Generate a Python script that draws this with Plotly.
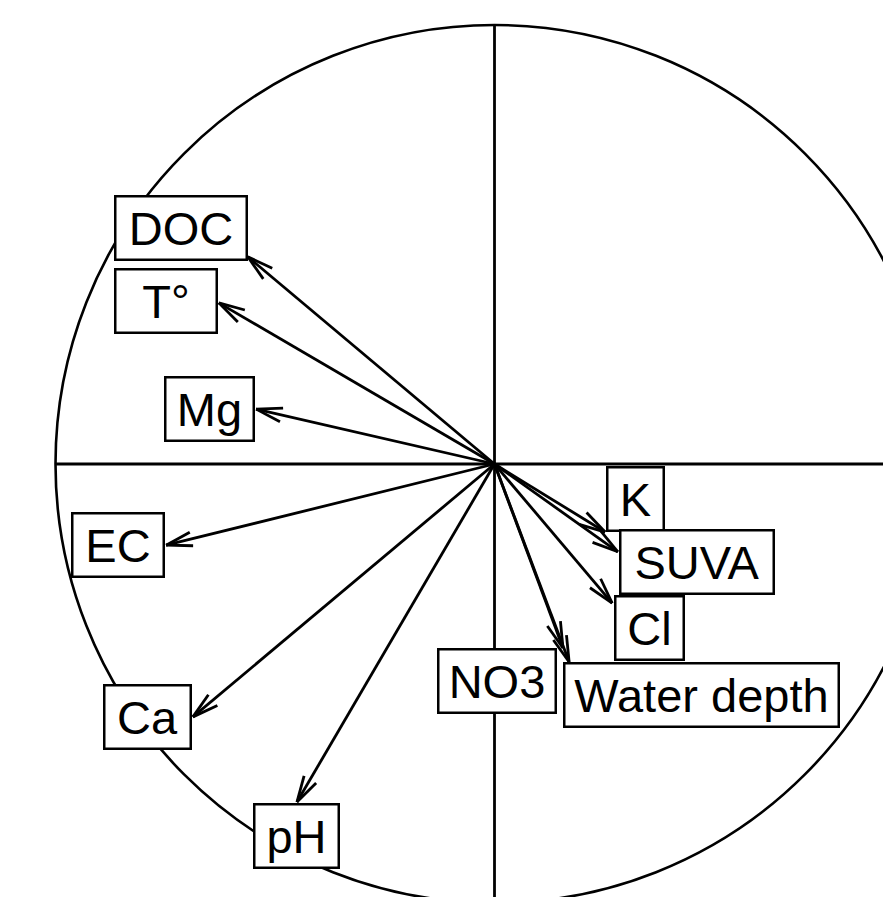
import math
import plotly.graph_objects as go

# ---- data (correlation circle coordinates) ----
variables = ["DOC", "T°", "Mg", "EC", "Ca", "pH", "K", "SUVA", "Cl", "NO3", "Water depth"]
axis1 = [-0.562, -0.628, -0.543, -0.748, -0.687, -0.450, 0.252, 0.281, 0.268, 0.156, 0.170]
axis2 = [0.472, 0.367, 0.125, -0.185, -0.576, -0.770, -0.155, -0.200, -0.317, -0.419, -0.451]

# ---- styling / layout ----
W, H = 883, 897
cx_px, cy_px = 494.5, 464.0
unit_px = 439.0
xr = [-cx_px / unit_px, (W - cx_px) / unit_px]
yr = [-(H - cy_px) / unit_px, cy_px / unit_px]

box_w = {"DOC": 131, "T°": 101, "Mg": 88, "EC": 91, "Ca": 86, "pH": 84,
         "K": 56, "SUVA": 153, "Cl": 68, "NO3": 117, "Water depth": 274}
# (xanchor, yanchor, xshift px, yshift px)
place = {"DOC": ("right", "bottom", 0, -4),
         "T°": ("right", "middle", -1, 1.5),
         "Mg": ("right", "middle", -1, 0),
         "EC": ("right", "middle", -1, 0),
         "Ca": ("right", "middle", -1, 0),
         "pH": ("center", "top", 0, -1),
         "K": ("left", "bottom", 1, 0),
         "SUVA": ("left", "middle", 1, -10.5),
         "Cl": ("left", "middle", 2, -25),
         "NO3": ("right", "top", -6, 0),
         "Water depth": ("left", "top", -6, 0)}

head_len = 27.0 / unit_px
head_ang = math.radians(15)
LW = 2.8

fig = go.Figure()

# circle
fig.add_shape(type="circle", xref="x", yref="y", x0=-1, y0=-1, x1=1, y1=1,
              line=dict(color="black", width=2.6), layer="below")
# axes lines
fig.add_trace(go.Scatter(x=[-1, 1, None, 0, 0], y=[0, 0, None, 1, -1], mode="lines",
                         line=dict(color="black", width=LW), hoverinfo="skip", showlegend=False))

xs, ys = [], []
for x, y in zip(axis1, axis2):
    xs += [0, x, None]
    ys += [0, y, None]
    ang = math.atan2(-y, -x)
    for s in (1, -1):
        a = ang + s * head_ang
        xs += [x, x + head_len * math.cos(a), None]
        ys += [y, y + head_len * math.sin(a), None]
fig.add_trace(go.Scatter(x=xs, y=ys, mode="lines", line=dict(color="black", width=LW),
                         hoverinfo="skip", showlegend=False))

for name, x, y in zip(variables, axis1, axis2):
    xa, ya, dx, dy = place[name]
    fig.add_annotation(x=x, y=y, xref="x", yref="y", text=name, showarrow=False,
                       xanchor=xa, yanchor=ya, xshift=dx, yshift=dy,
                       width=box_w[name] - 2, height=61, align="center", valign="middle",
                       bgcolor="white", bordercolor="black", borderwidth=2.5, borderpad=0,
                       font=dict(family="Liberation Sans, Arial, sans-serif", size=47, color="black"))

fig.update_layout(width=W, height=H, autosize=False,
                  margin=dict(l=0, r=0, t=0, b=0, pad=0),
                  plot_bgcolor="white", paper_bgcolor="white", showlegend=False,
                  xaxis=dict(range=xr, visible=False, showgrid=False, zeroline=False, fixedrange=True),
                  yaxis=dict(range=yr, visible=False, showgrid=False, zeroline=False, fixedrange=True))

fig.write_html("out.html", config={"displayModeBar": False},
               post_script="document.body.style.margin='0';document.body.style.padding='0';"
                           "document.body.style.overflow='hidden';")
